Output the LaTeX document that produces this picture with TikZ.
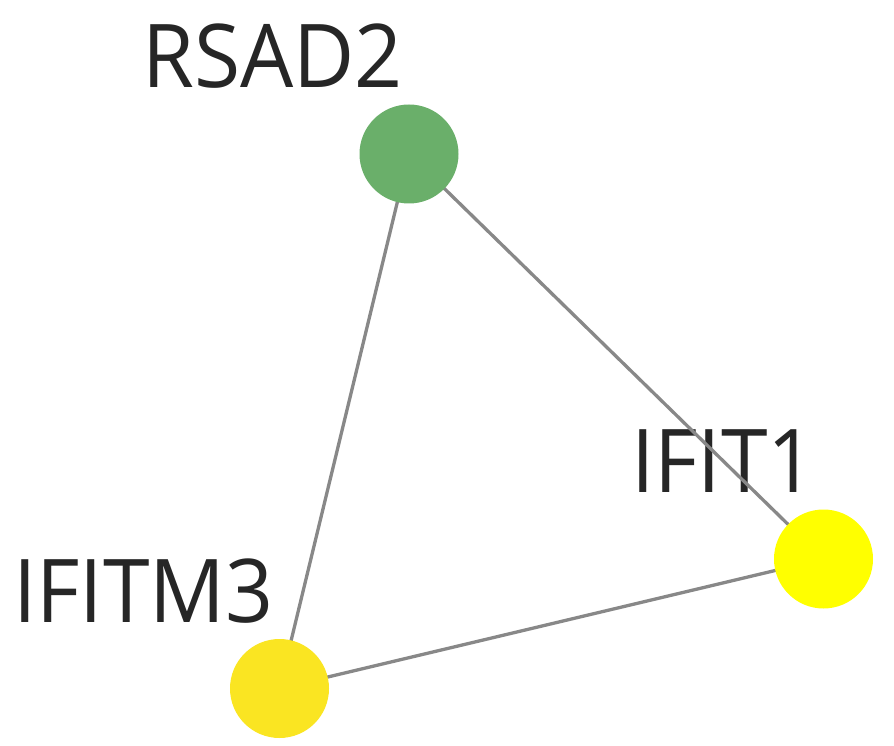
\documentclass[tikz,border=0pt]{standalone}
\usepackage{fontspec}
\setmainfont{Open Sans}[FakeStretch=0.955]
\usetikzlibrary{backgrounds}
\pgfdeclarelayer{labels}
\pgfdeclarelayer{edges}
\pgfsetlayers{labels,edges,main}
\definecolor{txt}{HTML}{262626}
\definecolor{edgegray}{HTML}{888888}
\definecolor{green1}{HTML}{6AAF6A}
\definecolor{yellow1}{HTML}{FFFF00}
\definecolor{yellow2}{HTML}{FAE522}
\tikzset{
  gene/.style={circle, minimum size=99pt, inner sep=0pt, draw=none},
  lbl/.style={anchor=base, text=txt, inner sep=0pt, font=\fontsize{88}{88}\selectfont},
  link/.style={draw=edgegray, line width=3.3pt}
}
\begin{document}
\begin{tikzpicture}[x=1pt,y=1pt]
\useasboundingbox (0,0) rectangle (894,745);
\node[gene, fill=green1] (rsad2) at (409,591) {};
\node[gene, fill=yellow1] (ifit1) at (823.5,186) {};
\node[gene, fill=yellow2] (ifitm3) at (279.5,56.5) {};
\begin{pgfonlayer}{labels}
\node[lbl] (lrsad2) at (272.5,657) {RSAD2};
\node[lbl] (lifit1) at (723.5,253) {IFIT1};
\node[lbl] (lifitm3) at (143.5,123) {IFITM3};
\end{pgfonlayer}
\begin{pgfonlayer}{edges}
\draw[link] (rsad2.center) -- (ifit1.center);
\draw[link] (rsad2.center) -- (ifitm3.center);
\draw[link] (ifitm3.center) -- (ifit1.center);
\end{pgfonlayer}
\end{tikzpicture}
\end{document}
